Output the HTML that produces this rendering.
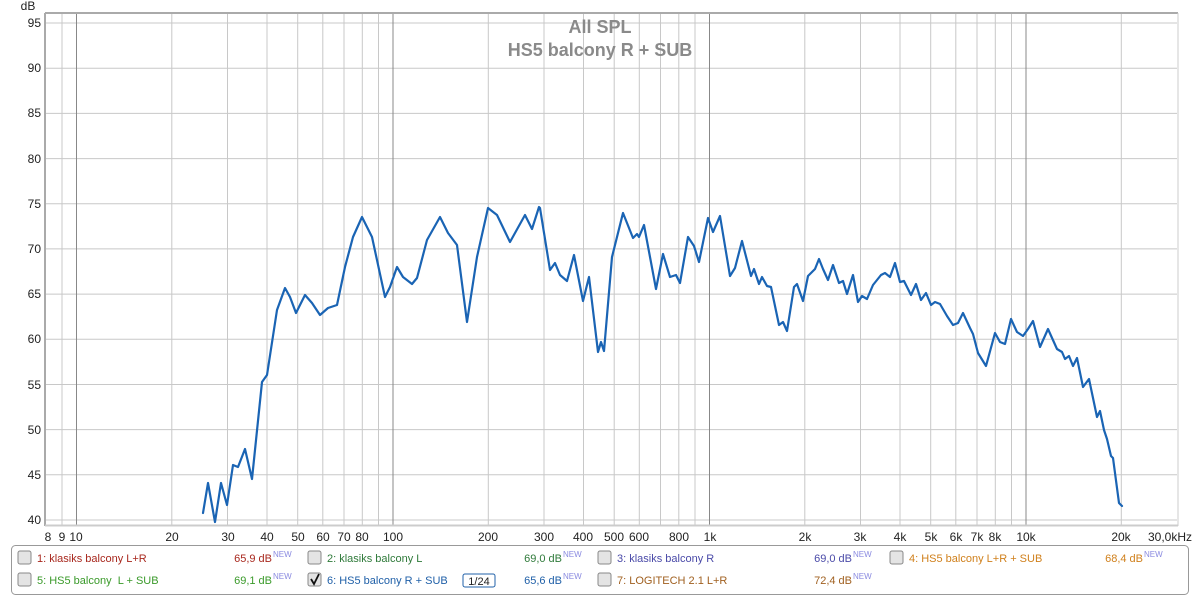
<!DOCTYPE html>
<html><head><meta charset="utf-8"><style>
body{margin:0;background:#fff;width:1200px;height:596px;overflow:hidden;font-family:"Liberation Sans",sans-serif}
</style></head><body>
<svg width="1200" height="596" xmlns="http://www.w3.org/2000/svg" font-family="Liberation Sans, sans-serif">
<rect width="1200" height="596" fill="#fff"/>
<g stroke="#c8c8c8" stroke-width="1">
<line x1="46" x2="1177" y1="520" y2="520"/><line x1="46" x2="1177" y1="474.8" y2="474.8"/><line x1="46" x2="1177" y1="429.6" y2="429.6"/><line x1="46" x2="1177" y1="384.5" y2="384.5"/><line x1="46" x2="1177" y1="339.3" y2="339.3"/><line x1="46" x2="1177" y1="294.1" y2="294.1"/><line x1="46" x2="1177" y1="248.9" y2="248.9"/><line x1="46" x2="1177" y1="203.7" y2="203.7"/><line x1="46" x2="1177" y1="158.6" y2="158.6"/><line x1="46" x2="1177" y1="113.4" y2="113.4"/><line x1="46" x2="1177" y1="68.2" y2="68.2"/><line x1="46" x2="1177" y1="23" y2="23"/>
<line x1="62" x2="62" y1="14" y2="525"/><line x1="171.8" x2="171.8" y1="14" y2="525"/><line x1="227.5" x2="227.5" y1="14" y2="525"/><line x1="267" x2="267" y1="14" y2="525"/><line x1="297.7" x2="297.7" y1="14" y2="525"/><line x1="322.8" x2="322.8" y1="14" y2="525"/><line x1="344" x2="344" y1="14" y2="525"/><line x1="362.3" x2="362.3" y1="14" y2="525"/><line x1="378.5" x2="378.5" y1="14" y2="525"/>
<line x1="488.3" x2="488.3" y1="14" y2="525"/><line x1="544" x2="544" y1="14" y2="525"/><line x1="583.5" x2="583.5" y1="14" y2="525"/><line x1="614.2" x2="614.2" y1="14" y2="525"/><line x1="639.3" x2="639.3" y1="14" y2="525"/><line x1="660.5" x2="660.5" y1="14" y2="525"/><line x1="678.8" x2="678.8" y1="14" y2="525"/><line x1="695" x2="695" y1="14" y2="525"/>
<line x1="804.8" x2="804.8" y1="14" y2="525"/><line x1="860.5" x2="860.5" y1="14" y2="525"/><line x1="900" x2="900" y1="14" y2="525"/><line x1="930.7" x2="930.7" y1="14" y2="525"/><line x1="955.8" x2="955.8" y1="14" y2="525"/><line x1="977" x2="977" y1="14" y2="525"/><line x1="995.3" x2="995.3" y1="14" y2="525"/><line x1="1011.5" x2="1011.5" y1="14" y2="525"/><line x1="1121.3" x2="1121.3" y1="14" y2="525"/>
</g>
<g stroke="#888" stroke-width="1">
<line x1="76.5" x2="76.5" y1="14" y2="525"/><line x1="393" x2="393" y1="14" y2="525"/><line x1="709.5" x2="709.5" y1="14" y2="525"/><line x1="1026" x2="1026" y1="14" y2="525"/>
</g>
<g font-size="12" fill="#222" text-anchor="end">
<text x="41" y="524">40</text><text x="41" y="479">45</text><text x="41" y="434">50</text><text x="41" y="389">55</text><text x="41" y="343">60</text><text x="41" y="298">65</text><text x="41" y="253">70</text><text x="41" y="208">75</text><text x="41" y="163">80</text><text x="41" y="117">85</text><text x="41" y="72">90</text><text x="41" y="27">95</text>
</g>
<g font-size="12" fill="#222" text-anchor="middle">
<text x="48" y="541">8</text><text x="62" y="541">9</text><text x="76" y="541">10</text><text x="172" y="541">20</text><text x="228" y="541">30</text><text x="267" y="541">40</text><text x="298" y="541">50</text><text x="323" y="541">60</text><text x="344" y="541">70</text><text x="362" y="541">80</text><text x="393" y="541">100</text><text x="488" y="541">200</text><text x="544" y="541">300</text><text x="583" y="541">400</text><text x="614" y="541">500</text><text x="639" y="541">600</text><text x="679" y="541">800</text><text x="710" y="541">1k</text><text x="805" y="541">2k</text><text x="860" y="541">3k</text><text x="900" y="541">4k</text><text x="931" y="541">5k</text><text x="956" y="541">6k</text><text x="977" y="541">7k</text><text x="995" y="541">8k</text><text x="1026" y="541">10k</text><text x="1121" y="541">20k</text><text x="1170" y="541">30,0kHz</text>
</g>
<line x1="45" y1="13" x2="1178" y2="13" stroke="#aaa" stroke-width="2"/>
<line x1="45" y1="13" x2="45" y2="526" stroke="#aaa" stroke-width="2"/>
<line x1="1178" y1="13" x2="1178" y2="526" stroke="#ccc" stroke-width="1"/>
<line x1="45" y1="525.5" x2="1178" y2="525.5" stroke="#ccc" stroke-width="2"/>
<text x="28" y="10" font-size="12" fill="#222" text-anchor="middle">dB</text>
<text x="600" y="33" font-size="18" fill="#8a8a8a" text-anchor="middle" font-weight="bold">All SPL</text>
<text x="600" y="56" font-size="18" fill="#8a8a8a" text-anchor="middle" font-weight="bold">HS5 balcony R + SUB</text>
<polyline fill="none" stroke="#1a64b4" stroke-width="2.2" stroke-linejoin="round" stroke-linecap="round" points="203,513 208,483 215,522 221,483 227,505 233,465 238,467 245,449 252,479 262,382 267,375 277,310 285,288 290,297 296,313 305,295 312,303 320,315 328,308 337,305 345,267 353,237 362,217 372,237 385,297 390,287 397,267 403,277 412,284 417,278 427,240 440,217 448,233 457,245 467,322 477,257 488,208 497,215 510,242 525,215 532,229 539,207 540,208 550,270 555,263 560,275 567,281 574,255 583,301 589,277 598,352 601,342 604,351 612,257 623,213 633,238 637,234 639,237 644,225 656,289 663,254 670,277 676,275 680,283 688,237 694,246 699,262 708,218 713,232 720,216 730,276 735,268 742,241 751,276 754,269 759,284 762,277 767,286 771,287 779,325 783,322 787,331 794,287 797,284 803,301 808,276 815,269 819,259 823,269 828,280 833,265 839,283 843,281 847,294 853,275 858,302 862,296 867,299 873,285 881,275 885,273 890,277 895,263 900,282 904,281 911,295 916,284 921,300 926,293 931,305 935,302 940,304 947,316 953,325 958,323 963,313 970,328 973,334 978,353 986,366 995,333 1000,342 1005,344 1011,319 1017,332 1023,336 1028,329 1033,321 1040,347 1048,329 1057,349 1062,352 1065,359 1069,356 1073,366 1077,358 1083,387 1089,379 1097,417 1100,411 1104,430 1107,439 1111,456 1113,458 1119,503 1122,506"/>
<rect x="11.5" y="545.5" width="1177" height="49" rx="4" fill="#fff" stroke="#999"/>
<g font-size="11">
<rect x="18" y="551" width="13" height="13" rx="2" fill="#e4e4e4" stroke="#888"/>
<text x="37" y="562" fill="#a8281e">1: klasiks balcony L+R</text>
<text x="272" y="562" fill="#a8281e" text-anchor="end">65,9 dB</text><text x="273" y="557" fill="#8a8ae0" font-size="8">NEW</text>
<rect x="308" y="551" width="13" height="13" rx="2" fill="#e4e4e4" stroke="#888"/>
<text x="327" y="562" fill="#2f7a3a">2: klasiks balcony L</text>
<text x="562" y="562" fill="#2f7a3a" text-anchor="end">69,0 dB</text><text x="563" y="557" fill="#8a8ae0" font-size="8">NEW</text>
<rect x="598" y="551" width="13" height="13" rx="2" fill="#e4e4e4" stroke="#888"/>
<text x="617" y="562" fill="#4a4aa8">3: klasiks balcony R</text>
<text x="852" y="562" fill="#4a4aa8" text-anchor="end">69,0 dB</text><text x="853" y="557" fill="#8a8ae0" font-size="8">NEW</text>
<rect x="890" y="551" width="13" height="13" rx="2" fill="#e4e4e4" stroke="#888"/>
<text x="909" y="562" fill="#d0801c">4: HS5 balcony L+R + SUB</text>
<text x="1143" y="562" fill="#d0801c" text-anchor="end">68,4 dB</text><text x="1144" y="557" fill="#8a8ae0" font-size="8">NEW</text>
<rect x="18" y="573" width="13" height="13" rx="2" fill="#e4e4e4" stroke="#888"/>
<text x="37" y="584" fill="#3a9a2a" xml:space="preserve">5: HS5 balcony  L + SUB</text>
<text x="272" y="584" fill="#3a9a2a" text-anchor="end">69,1 dB</text><text x="273" y="579" fill="#8a8ae0" font-size="8">NEW</text>
<rect x="308" y="573" width="13" height="13" rx="2" fill="#e4e4e4" stroke="#888"/>
<path d="M311 579 l3 5 l5 -10" stroke="#111" stroke-width="1.8" fill="none"/>
<text x="327" y="584" fill="#2060a8">6: HS5 balcony R + SUB</text>
<rect x="463" y="574" width="32" height="13" rx="2" fill="#fff" stroke="#2060a8"/><text x="479" y="585" fill="#222" text-anchor="middle">1/24</text>
<text x="562" y="584" fill="#2060a8" text-anchor="end">65,6 dB</text><text x="563" y="579" fill="#8a8ae0" font-size="8">NEW</text>
<rect x="598" y="573" width="13" height="13" rx="2" fill="#e4e4e4" stroke="#888"/>
<text x="617" y="584" fill="#a06020">7: LOGITECH 2.1 L+R</text>
<text x="852" y="584" fill="#a06020" text-anchor="end">72,4 dB</text><text x="853" y="579" fill="#8a8ae0" font-size="8">NEW</text>
</g>
</svg>
</body></html>
